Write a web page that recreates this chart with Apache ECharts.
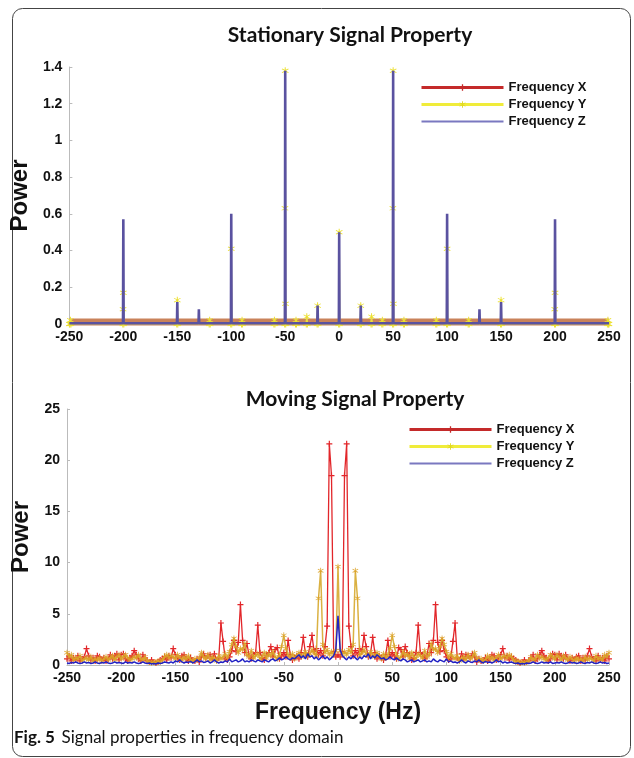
<!DOCTYPE html>
<html>
<head>
<meta charset="utf-8">
<script src="https://cdn.jsdelivr.net/npm/echarts@6/dist/echarts.min.js"></script>
<style>
html, body { margin: 0; padding: 0; background: #fff; }
#main { width: 634px; height: 758px; }
</style>
</head>
<body>
<div id="main"></div>
<script>
// ---- stationary signal (top) ----
var xTicks = [-250, -200, -150, -100, -50, 0, 50, 100, 150, 200, 250];

var statFreqX = [-250, -150, -50, 50, 150, 250];
var statPowX = [0.011, 0.011, 0.011, 0.011, 0.011, 0.011];

var statPeakFreqZ = [-200, -150, -130, -100, -50, -20, 0, 20, 50, 100, 130, 150, 200];
var statPeakZ = [0.57, 0.12, 0.08, 0.60, 1.38, 0.10, 0.50, 0.10, 1.38, 0.60, 0.08, 0.12, 0.57];

var statPeakFreqY = [-249, -200, -150, -120, -100, -90, -60, -50, -40, -30, -20, 0, 20, 30, 40, 50, 60, 90, 100, 120, 150, 200, 249];
var statPeakY = [0.02, 0.17, 0.13, 0.02, 0.41, 0.02, 0.02, 1.38, 0.02, 0.04, 0.10, 0.50, 0.10, 0.04, 0.02, 1.38, 0.02, 0.02, 0.41, 0.02, 0.13, 0.17, 0.02];
var statRiseY = [0, 0.08, 0, 0, 0, 0, 0, 0.63, 0, 0, 0, 0, 0, 0, 0, 0.63, 0, 0, 0, 0, 0, 0.08, 0];
var statFallY = [0, 0, 0, 0, 0, 0, 0, 0.11, 0, 0, 0, 0, 0, 0, 0, 0.11, 0, 0, 0, 0, 0, 0, 0];

// ---- moving signal (bottom), 2 Hz bins from -250 to 250 ----
var moveFreq = [];
for (var f = -250; f <= 250; f += 2) moveFreq.push(f);

var moveX = [
  0.6, 0.9, 0.4, 0.7, 0.5, 0.9, 0.4, 0.6, 0.8, 1.6,
  0.9, 0.5, 0.7, 0.4, 0.9, 0.8, 0.5, 0.7, 0.4, 0.6,
  1.0, 0.6, 0.9, 1.1, 0.5, 1.0, 1.1, 0.6, 0.4, 0.7,
  0.9, 1.4, 1.0, 0.6, 0.4, 1.0, 0.7, 0.4, 0.3, 0.5,
  0.3, 0.2, 0.3, 0.5, 0.6, 0.8, 0.5, 0.9, 0.7, 1.6,
  1.0, 0.7, 0.5, 0.9, 1.0, 0.6, 0.4, 0.7, 0.5, 0.4,
  0.6, 0.3, 0.8, 1.1, 0.7, 0.9, 1.0, 0.6, 1.1, 0.5,
  0.7, 4.1, 2.3, 0.6, 0.5, 0.8, 1.4, 2.4, 1.3, 2.2,
  5.9, 2.4, 1.2, 2.1, 0.9, 0.6, 1.0, 1.2, 3.9, 1.2,
  0.7, 0.5, 0.9, 1.2, 1.8, 0.8, 1.5, 1.7, 0.6, 0.9,
  1.2, 0.8, 2.4, 1.0, 0.5, 0.7, 0.9, 0.6, 1.2, 2.7,
  1.1, 0.8, 1.8, 2.9, 1.3, 1.6, 1.0, 1.4, 0.9, 1.8,
  3.8, 21.6, 18.5, 1.3, 0.8,
  1.0,
  0.8, 1.3, 18.5, 21.6, 3.8,
  1.8, 0.9, 1.4, 1.0, 1.6, 1.3, 2.9, 1.8, 0.8, 1.1,
  2.7, 1.2, 0.6, 0.9, 0.7, 0.5, 1.0, 2.4, 0.8, 1.2,
  0.9, 0.6, 1.7, 1.5, 0.8, 1.8, 1.2, 0.9, 0.5, 0.7,
  1.2, 3.9, 1.2, 1.0, 0.6, 0.9, 2.1, 1.2, 2.4, 5.9,
  2.2, 1.3, 2.4, 1.4, 0.8, 0.5, 0.6, 2.3, 4.1, 0.7,
  0.5, 1.1, 0.6, 1.0, 0.9, 0.7, 1.1, 0.8, 0.3, 0.6,
  0.4, 0.5, 0.7, 0.4, 0.6, 1.0, 0.9, 0.5, 0.7, 1.0,
  1.6, 0.7, 0.9, 0.5, 0.8, 0.6, 0.5, 0.3, 0.2, 0.3,
  0.5, 0.3, 0.4, 0.7, 1.0, 0.4, 0.6, 1.0, 1.4, 0.9,
  0.7, 0.4, 0.6, 1.1, 1.0, 0.5, 1.1, 0.9, 0.6, 1.0,
  0.6, 0.4, 0.7, 0.5, 0.8, 0.9, 0.4, 0.7, 0.5, 0.9,
  1.6, 0.8, 0.6, 0.4, 0.9, 0.5, 0.7, 0.4, 0.9, 0.6
];

var moveY = [
  1.2, 0.8, 1.0, 0.5, 0.7, 0.6, 0.9, 0.4, 0.6, 0.7,
  0.5, 0.8, 0.4, 0.6, 0.5, 0.7, 0.4, 0.6, 0.8, 0.5,
  0.7, 0.9, 0.5, 0.8, 1.0, 0.6, 0.8, 1.0, 0.7, 0.5,
  0.6, 0.8, 0.7, 1.0, 0.6, 0.5, 0.8, 0.4, 0.3, 0.2,
  0.3, 0.2, 0.4, 0.3, 0.5, 0.8, 1.0, 0.7, 0.9, 0.8,
  0.6, 1.0, 0.7, 0.5, 0.8, 0.6, 0.9, 0.5, 0.4, 0.6,
  0.5, 0.7, 1.2, 0.8, 0.6, 1.0, 0.5, 0.8, 0.6, 0.4,
  0.9, 0.6, 0.8, 1.1, 0.7, 1.3, 2.0, 2.6, 1.8, 1.2,
  1.6, 1.5, 2.1, 1.0, 0.8, 1.4, 0.7, 0.9, 1.1, 0.6,
  0.8, 1.2, 0.7, 1.1, 0.9, 1.3, 0.8, 0.6, 1.0, 1.8,
  2.9, 1.6, 1.0, 0.7, 1.1, 0.6, 0.9, 1.2, 0.8, 1.0,
  1.3, 0.9, 1.1, 1.5, 1.2, 0.9, 6.5, 9.2, 2.0, 1.2,
  1.5, 1.0, 1.3, 1.0, 1.4,
  9.6,
  1.4, 1.0, 1.3, 1.0, 1.5,
  1.2, 2.0, 9.2, 6.5, 0.9, 1.2, 1.5, 1.1, 0.9, 1.3,
  1.0, 0.8, 1.2, 0.9, 0.6, 1.1, 0.7, 1.0, 1.6, 2.9,
  1.8, 1.0, 0.6, 0.8, 1.3, 0.9, 1.1, 0.7, 1.2, 0.8,
  0.6, 1.1, 0.9, 0.7, 1.4, 0.8, 1.0, 2.1, 1.5, 1.6,
  1.2, 1.8, 2.6, 2.0, 1.3, 0.7, 1.1, 0.8, 0.6, 0.9,
  0.4, 0.6, 0.8, 0.5, 1.0, 0.6, 0.8, 1.2, 0.7, 0.5,
  0.6, 0.4, 0.5, 0.9, 0.6, 0.8, 0.5, 0.7, 1.0, 0.6,
  0.8, 0.9, 0.7, 1.0, 0.8, 0.5, 0.3, 0.4, 0.2, 0.3,
  0.2, 0.3, 0.4, 0.8, 0.5, 0.6, 1.0, 0.7, 0.8, 0.6,
  0.5, 0.7, 1.0, 0.8, 0.6, 1.0, 0.8, 0.5, 0.9, 0.7,
  0.5, 0.8, 0.6, 0.4, 0.7, 0.5, 0.6, 0.4, 0.8, 0.5,
  0.7, 0.6, 0.4, 0.9, 0.6, 0.7, 0.5, 1.0, 0.8, 1.2
];

var moveZ = [
  0.2, 0.15, 0.25, 0.2, 0.3, 0.2, 0.15, 0.2, 0.3, 0.2,
  0.25, 0.15, 0.2, 0.3, 0.2, 0.15, 0.25, 0.2, 0.3, 0.2,
  0.15, 0.2, 0.3, 0.2, 0.25, 0.2, 0.15, 0.3, 0.2, 0.25,
  0.2, 0.3, 0.2, 0.15, 0.2, 0.3, 0.2, 0.15, 0.2, 0.1,
  0.15, 0.1, 0.2, 0.15, 0.2, 0.3, 0.25, 0.2, 0.3, 0.2,
  0.4, 0.3, 0.5, 0.3, 0.2, 0.3, 0.25, 0.35, 0.2, 0.3,
  0.5, 0.3, 0.4, 0.25, 0.3, 0.4, 0.2, 0.3, 0.5, 0.3,
  0.2, 0.3, 0.25, 0.4, 0.3, 0.6, 0.3, 0.4, 0.5, 0.3,
  0.4, 0.6, 0.3, 0.4, 0.3, 0.5, 0.4, 0.3, 0.5, 0.4,
  0.3, 0.5, 0.4, 0.3, 0.5, 0.6, 0.4, 0.5, 0.7, 0.5,
  0.6, 0.8, 0.6, 0.5, 0.7, 0.6, 0.8, 1.0, 0.7, 0.9,
  0.6, 1.1, 0.8, 0.9, 0.6, 0.8, 0.5, 0.7, 0.9, 0.6,
  0.8, 0.5, 0.7, 0.9, 1.5,
  4.8,
  1.5, 0.9, 0.7, 0.5, 0.8,
  0.6, 0.9, 0.7, 0.5, 0.8, 0.6, 0.9, 0.8, 1.1, 0.6,
  0.9, 0.7, 1.0, 0.8, 0.6, 0.7, 0.5, 0.6, 0.8, 0.6,
  0.5, 0.7, 0.5, 0.4, 0.6, 0.5, 0.3, 0.4, 0.5, 0.3,
  0.4, 0.5, 0.3, 0.4, 0.5, 0.3, 0.4, 0.3, 0.6, 0.4,
  0.3, 0.5, 0.4, 0.3, 0.6, 0.3, 0.4, 0.25, 0.3, 0.2,
  0.3, 0.5, 0.3, 0.2, 0.4, 0.3, 0.25, 0.4, 0.3, 0.5,
  0.3, 0.2, 0.35, 0.25, 0.3, 0.2, 0.3, 0.5, 0.3, 0.4,
  0.2, 0.3, 0.2, 0.25, 0.3, 0.2, 0.15, 0.2, 0.1, 0.15,
  0.1, 0.2, 0.15, 0.2, 0.3, 0.2, 0.15, 0.2, 0.3, 0.2,
  0.25, 0.2, 0.3, 0.15, 0.2, 0.25, 0.2, 0.3, 0.2, 0.15,
  0.2, 0.3, 0.2, 0.25, 0.15, 0.2, 0.3, 0.2, 0.15, 0.25,
  0.2, 0.3, 0.2, 0.15, 0.2, 0.3, 0.2, 0.25, 0.15, 0.2
];

var plusSym = 'path://M4,0H6V4H10V6H6V10H4V6H0V4H4Z';
var starSym = 'path://M4.4,0H5.6V3.6L8.7,1.8L9.3,2.8L6.2,4.6V5.4L9.3,7.2L8.7,8.2L5.6,6.4V10H4.4V6.4L1.3,8.2L0.7,7.2L3.8,5.4V4.6L0.7,2.8L1.3,1.8L4.4,3.6Z';

function pairs(xs, ys) {
  return xs.map(function (x, i) { return [x, ys[i]]; });
}

// thin spikes standing on a flat floor
function spikeLine(freqs, peaks, base) {
  var d = [[-250, base]];
  for (var i = 0; i < freqs.length; i++) {
    d.push([freqs[i] - 0.3, base], [freqs[i], peaks[i]], [freqs[i] + 0.3, base]);
  }
  d.push([250, base]);
  return d;
}

function spikeLineY(freqs, peaks, rise, fall, base) {
  var d = [[-250, base]];
  for (var i = 0; i < freqs.length; i++) {
    var f = freqs[i];
    d.push([f - 0.5, base]);
    if (rise[i]) d.push([f - 0.25, rise[i]]);
    d.push([f, peaks[i]]);
    if (fall[i]) d.push([f + 0.25, fall[i]]);
    d.push([f + 0.5, base]);
  }
  d.push([250, base]);
  return d;
}

var tickFont = { fontFamily: 'Liberation Sans', fontWeight: 'bold', fontSize: 14, color: '#111' };

function xAx(idx, withName) {
  var a = {
    type: 'value', gridIndex: idx, min: -250, max: 250, interval: 50,
    axisLine: { onZero: false, lineStyle: { color: '#bbb' } },
    axisTick: { inside: true, length: 3, lineStyle: { color: '#bbb' } },
    axisLabel: Object.assign({ margin: 6 }, tickFont),
    splitLine: { show: false }
  };
  if (withName) {
    a.name = 'Frequency (Hz)';
    a.nameLocation = 'middle';
    a.nameGap = 36;
    a.nameTextStyle = { fontFamily: 'Liberation Sans', fontWeight: 'bold', fontSize: 23, color: '#111' };
  }
  return a;
}

function yAx(idx, max, step) {
  return {
    type: 'value', gridIndex: idx, min: 0, max: max, interval: step,
    name: 'Power', nameLocation: 'middle', nameGap: 30,
    nameTextStyle: { fontFamily: 'Liberation Sans', fontWeight: 'bold', fontSize: 24, color: '#111' },
    axisLine: { show: true, onZero: false, lineStyle: { color: '#bbb' } },
    axisTick: { show: true, inside: true, length: 3, lineStyle: { color: '#bbb' } },
    axisLabel: Object.assign({ margin: 7 }, tickFont),
    splitLine: { show: false }
  };
}

var legendItems = [
  { name: 'Frequency X', itemStyle: { color: '#c42a2a' }, lineStyle: { color: '#c42a2a', width: 3 } },
  { name: 'Frequency Y', itemStyle: { color: '#e0d820' }, lineStyle: { color: '#f0ec3a', width: 3 } },
  { name: 'Frequency Z', itemStyle: { color: 'rgba(0,0,0,0)' }, lineStyle: { color: '#7a78c0', width: 2 } }
];

function legendAt(left, top) {
  return {
    orient: 'vertical', left: left, top: top, itemGap: 4,
    itemWidth: 82, itemHeight: 8, selectedMode: false,
    data: legendItems,
    textStyle: { fontFamily: 'Liberation Sans', fontWeight: 'bold', fontSize: 13, color: '#111' }
  };
}

var titleFont = { fontFamily: 'Lato', fontWeight: 'bold', fontSize: 21, color: '#111' };

var myChart = echarts.init(document.getElementById('main'));
var option = {
  animation: false,
  backgroundColor: '#fff',
  title: [
    { text: 'Stationary Signal Property', left: 345, top: 20, textAlign: 'center', textStyle: titleFont },
    { text: 'Moving Signal Property', left: 350, top: 384, textAlign: 'center', textStyle: titleFont }
  ],
  legend: [legendAt(415, 76), legendAt(403, 418)],
  grid: [
    { left: 67, right: 25, top: 67, height: 257 },
    { left: 67, right: 25, top: 409, height: 256 }
  ],
  xAxis: [xAx(0, false), xAx(1, true)],
  yAxis: [yAx(0, 1.4, 0.2), yAx(1, 25, 5)],
  graphic: [
    {
      type: 'rect', shape: { x: 12.5, y: 8.5, width: 618, height: 748, r: 10 },
      style: { fill: null, stroke: '#444', lineWidth: 1 }, silent: true
    },
    {
      type: 'text', left: 14, top: 729, silent: true,
      style: {
        text: '{b|Fig. 5}  {n|Signal properties in frequency domain}',
        rich: {
          b: { fontFamily: 'Lato', fontWeight: 'bold', fontSize: 17, fill: '#111' },
          n: { fontFamily: 'Lato', fontSize: 17, fill: '#111' }
        }
      }
    }
  ],
  series: [
    {
      name: 'Frequency X', type: 'line', xAxisIndex: 0, yAxisIndex: 0,
      data: pairs(statFreqX, statPowX), symbol: plusSym, showSymbol: false,
      lineStyle: { color: '#c9825a', width: 7 }, itemStyle: { color: '#c42a2a' }, z: 2
    },
    {
      name: 'Frequency Y', type: 'line', xAxisIndex: 0, yAxisIndex: 0,
      data: spikeLineY(statPeakFreqY, statPeakY, statRiseY, statFallY, 0.0),
      symbol: starSym, symbolSize: 7, showSymbol: true,
      lineStyle: { color: '#e6dc55', width: 1.5 }, itemStyle: { color: '#ece030' }, z: 3
    },
    {
      name: 'Frequency Z', type: 'line', xAxisIndex: 0, yAxisIndex: 0,
      data: spikeLine(statPeakFreqZ, statPeakZ, 0.004), symbol: 'none',
      lineStyle: { color: '#5a52a0', width: 2.6 }, itemStyle: { color: '#7a78c0' }, z: 4
    },
    {
      name: 'Frequency X', type: 'line', xAxisIndex: 1, yAxisIndex: 1,
      data: pairs(moveFreq, moveX), symbol: plusSym, symbolSize: 6, showSymbol: true, showAllSymbol: true,
      lineStyle: { color: '#e2262a', width: 1.3 }, itemStyle: { color: '#e2262a' }, z: 2
    },
    {
      name: 'Frequency Y', type: 'line', xAxisIndex: 1, yAxisIndex: 1,
      data: pairs(moveFreq, moveY), symbol: starSym, symbolSize: 6, showSymbol: true, showAllSymbol: true,
      lineStyle: { color: '#d6a82e', width: 1.5, opacity: 0.9 }, itemStyle: { color: '#dba226', opacity: 0.9 }, z: 3
    },
    {
      name: 'Frequency Z', type: 'line', xAxisIndex: 1, yAxisIndex: 1,
      data: pairs(moveFreq, moveZ), symbol: 'none',
      lineStyle: { color: '#2222c4', width: 1.5 }, itemStyle: { color: '#7a78c0' }, z: 4
    }
  ]
};
myChart.setOption(option);
</script>
</body>
</html>
